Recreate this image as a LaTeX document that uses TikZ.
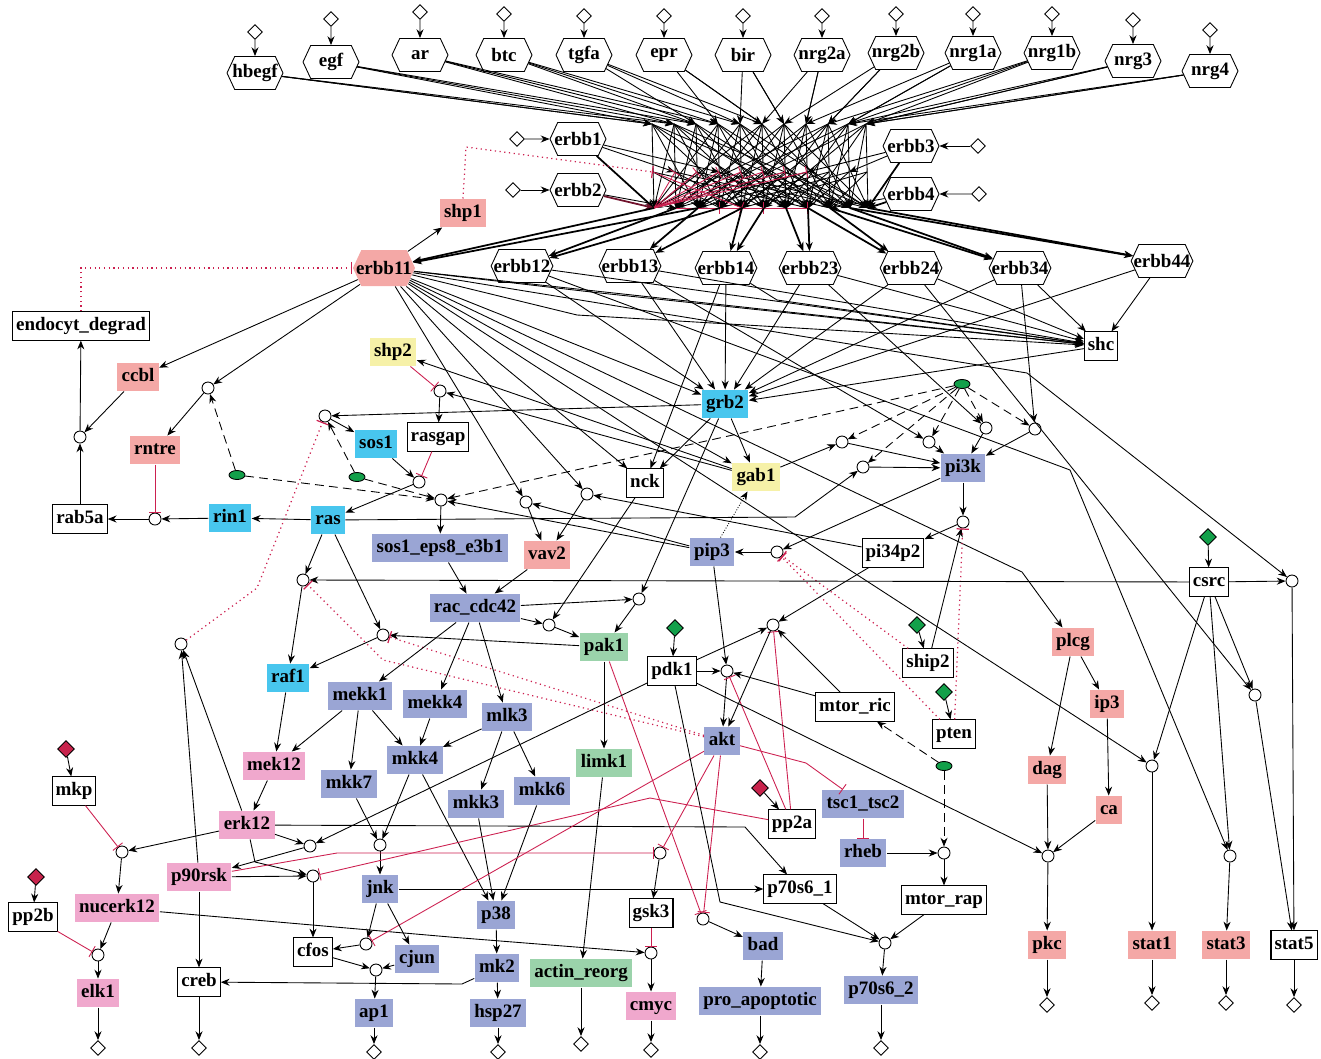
\documentclass[tikz,border=0pt]{standalone}
\usepackage{fontspec}
\setmainfont{Liberation Serif}
\usetikzlibrary{arrows.meta,shapes.geometric,shapes.symbols}

\definecolor{cpink}{HTML}{F4A8A6}
\definecolor{ccyan}{HTML}{48C6EE}
\definecolor{cyell}{HTML}{F6F1A8}
\definecolor{cblue}{HTML}{9AA5D4}
\definecolor{cgreen}{HTML}{9BD3AB}
\definecolor{cmag}{HTML}{F0A8CD}
\definecolor{inhred}{HTML}{CC2050}
\definecolor{modgreen}{HTML}{12A04A}
\definecolor{modred}{HTML}{C8234C}

\tikzset{
  every node/.style={font=\fontsize{10.8}{12}\selectfont\bfseries},
  lig/.style={shape=signal, signal to=east and west, signal pointer angle=130, draw, fill=white,
    inner xsep=-3pt, inner ysep=0pt, minimum height=0.66cm, minimum width=1.12cm},
  sp/.style={rectangle, draw, fill=white, line width=0.6pt, inner xsep=2pt, inner ysep=3.5pt, text height=7pt, text depth=2pt},
  spc/.style={rectangle, fill=#1, inner xsep=2.5pt, inner ysep=3.5pt, text height=7pt, text depth=2pt},
  rx/.style={circle, draw, fill=white, minimum size=0.24cm, inner sep=0pt},
  io/.style={diamond, draw, fill=white, minimum size=0.3cm, inner sep=0pt},
  mgreen/.style={diamond, draw, fill=modgreen, minimum size=0.34cm, inner sep=0pt},
  mred/.style={diamond, draw, fill=modred, minimum size=0.34cm, inner sep=0pt},
  gel/.style={ellipse, draw, fill=modgreen, minimum width=0.32cm, minimum height=0.18cm, inner sep=0pt},
  act/.style={->},
  inh/.style={draw=inhred, -{Bar[width=7pt]}},
  inhd/.style={inh, line width=0.7pt, dotted},
  modarr/.style={->, dash pattern=on 5pt off 3pt},
  dimarr/.style={->, line width=1pt},
}

\begin{document}
\begin{tikzpicture}[x=0.02cm, y=-0.02cm, line width=0.5pt, >={Stealth[length=5pt,width=4pt]}]
\useasboundingbox (0,0) rectangle (1321,1058);

% LIGANDS
\node[lig] (hbegf) at (255,73) {hbegf};
\node[lig] (egf) at (331,62) {egf};
\node[lig] (ar) at (420,55) {ar};
\node[lig] (btc) at (504,55) {btc};
\node[lig] (tgfa) at (584,55) {tgfa};
\node[lig] (epr) at (664,55) {epr};
\node[lig] (bir) at (743,55) {bir};
\node[lig] (nrg2a) at (822,55) {nrg2a};
\node[lig] (nrg2b) at (896,53) {nrg2b};
\node[lig] (nrg1a) at (973,53) {nrg1a};
\node[lig] (nrg1b) at (1052,53) {nrg1b};
\node[lig] (nrg3) at (1133,61) {nrg3};
\node[lig] (nrg4) at (1210,71) {nrg4};

% RECEPTORS AND DIMERS
\node[lig] (erbb1) at (578,139) {erbb1};
\node[lig] (erbb2) at (578,190) {erbb2};
\node[lig] (erbb3) at (911,146) {erbb3};
\node[lig] (erbb4) at (911,194) {erbb4};
\node[lig, draw=none, fill=cpink, minimum height=0.72cm] (erbb11) at (384,268) {erbb11};
\node[lig] (erbb12) at (522,266) {erbb12};
\node[lig] (erbb13) at (630,266) {erbb13};
\node[lig] (erbb14) at (726,268) {erbb14};
\node[lig] (erbb23) at (810,268) {erbb23};
\node[lig] (erbb24) at (911,268) {erbb24};
\node[lig] (erbb34) at (1020,268) {erbb34};
\node[lig] (erbb44) at (1162,261) {erbb44};

% SPECIES
\node[spc=cpink] (shp1) at (463,213) {shp1};
\node[sp] (endocyt) at (81,326) {endocyt\_degrad};
\node[spc=cpink] (ccbl) at (138,377) {ccbl};
\node[spc=cpink] (rntre) at (155,450) {rntre};
\node[sp] (rab5a) at (80,519) {rab5a};
\node[spc=ccyan] (rin1) at (230,518) {rin1};
\node[spc=ccyan] (ras) at (328,520) {ras};
\node[spc=ccyan] (sos1) at (376,444) {sos1};
\node[sp] (rasgap) at (438,437) {rasgap};
\node[spc=cyell] (shp2) at (393,352) {shp2};
\node[spc=cblue] (soseps) at (440,548) {sos1\_eps8\_e3b1};
\node[spc=cpink] (vav2) at (547,555) {vav2};
\node[sp] (nck) at (645,483) {nck};
\node[spc=ccyan] (grb2) at (725,404) {grb2};
\node[spc=cyell] (gab1) at (756,477) {gab1};
\node[spc=cblue] (pi3k) at (963,468) {pi3k};
\node[sp] (shc) at (1101,346) {shc};
\node[spc=cblue] (pip3) at (712,552) {pip3};
\node[sp] (pi34p2) at (893,553) {pi34p2};
\node[sp] (csrc) at (1209,582) {csrc};
\node[spc=cblue] (raccdc) at (475,608) {rac\_cdc42};
\node[spc=cgreen] (pak1) at (604,647) {pak1};
\node[sp] (pdk1) at (672,671) {pdk1};
\node[spc=ccyan] (raf1) at (288,678) {raf1};
\node[spc=cblue] (mekk1) at (360,696) {mekk1};
\node[spc=cblue] (mekk4) at (435,704) {mekk4};
\node[spc=cblue] (mlk3) at (507,717) {mlk3};
\node[spc=cgreen] (limk1) at (604,763) {limk1};
\node[spc=cblue] (akt) at (722,741) {akt};
\node[sp] (mtorric) at (855,707) {mtor\_ric};
\node[sp] (ship2) at (928,663) {ship2};
\node[sp] (pten) at (954,734) {pten};
\node[spc=cpink] (plcg) at (1073,642) {plcg};
\node[spc=cpink] (ip3) at (1107,704) {ip3};
\node[spc=cpink] (dag) at (1047,770) {dag};
\node[spc=cpink] (ca) at (1109,810) {ca};
\node[sp] (mkp) at (74,791) {mkp};
\node[spc=cmag] (mek12) at (274,766) {mek12};
\node[spc=cblue] (mkk7) at (349,784) {mkk7};
\node[spc=cblue] (mkk4) at (415,760) {mkk4};
\node[spc=cblue] (mkk3) at (476,804) {mkk3};
\node[spc=cblue] (mkk6) at (542,791) {mkk6};
\node[spc=cmag] (erk12) at (247,825) {erk12};
\node[sp] (pp2a) at (792,824) {pp2a};
\node[spc=cblue] (tsc) at (863,804) {tsc1\_tsc2};
\node[spc=cblue] (rheb) at (863,853) {rheb};
\node[spc=cmag] (p90rsk) at (199,877) {p90rsk};
\node[spc=cmag] (nucerk12) at (117,908) {nucerk12};
\node[sp] (pp2b) at (33,917) {pp2b};
\node[spc=cblue] (jnk) at (380,889) {jnk};
\node[spc=cblue] (p38) at (496,915) {p38};
\node[sp] (gsk3) at (651,913) {gsk3};
\node[sp] (p70a) at (800,889) {p70s6\_1};
\node[sp] (mtorrap) at (944,900) {mtor\_rap};
\node[sp] (cfos) at (313,952) {cfos};
\node[spc=cblue] (cjun) at (417,959) {cjun};
\node[spc=cblue] (mk2) at (497,968) {mk2};
\node[spc=cgreen] (actin) at (581,973) {actin\_reorg};
\node[spc=cblue] (bad) at (763,946) {bad};
\node[sp] (creb) at (199,982) {creb};
\node[spc=cmag] (elk1) at (98,993) {elk1};
\node[spc=cblue] (ap1) at (374,1013) {ap1};
\node[spc=cblue] (hsp27) at (498,1013) {hsp27};
\node[spc=cmag] (cmyc) at (651,1006) {cmyc};
\node[spc=cblue] (proapo) at (760,1001) {pro\_apoptotic};
\node[spc=cblue] (p70b) at (881,990) {p70s6\_2};
\node[spc=cpink] (pkc) at (1047,945) {pkc};
\node[spc=cpink] (stat1) at (1152,945) {stat1};
\node[spc=cpink] (stat3) at (1226,945) {stat3};
\node[sp] (stat5) at (1294,945) {stat5};

% REACTION POINTS
\node[rx] (rendo) at (80,437) {};
\node[rx] (rrntre) at (208,388) {};
\node[rx] (rrab) at (155,519) {};
\node[rx] (rsos) at (325,416) {};
\node[rx] (rras) at (419,482) {};
\node[rx] (rrasgap) at (440,391) {};
\node[rx] (reps) at (441,500) {};
\node[rx] (rvav1) at (526,502) {};
\node[rx] (rvav2) at (587,494) {};
\node[rx] (rpak1) at (549,625) {};
\node[rx] (rpak2) at (639,599) {};
\node[rx] (rraf1) at (303,580) {};
\node[rx] (rraf2) at (383,635) {};
\node[rx] (rpi1) at (842,442) {};
\node[rx] (rpi2) at (863,467) {};
\node[rx] (rpi3) at (929,442) {};
\node[rx] (rpi4) at (986,428) {};
\node[rx] (rpi5) at (1035,429) {};
\node[rx] (rpip) at (963,522) {};
\node[rx] (rpip3) at (777,552) {};
\node[rx] (rakt1) at (727,671) {};
\node[rx] (rakt2) at (773,625) {};
\node[rx] (rsosinh) at (181,644) {};
\node[rx] (rnuc) at (122,852) {};
\node[rx] (rp90) at (310,846) {};
\node[rx] (rcfos) at (313,876) {};
\node[rx] (rjnk) at (380,845) {};
\node[rx] (relk) at (98,955) {};
\node[rx] (rap1a) at (366,944) {};
\node[rx] (rap1) at (376,970) {};
\node[rx] (rgsk) at (660,853) {};
\node[rx] (rcmyc) at (651,953) {};
\node[rx] (rbad) at (703,919) {};
\node[rx] (rmtor) at (944,853) {};
\node[rx] (rp70) at (885,943) {};
\node[rx] (rpkc) at (1048,856) {};
\node[rx] (rst1) at (1152,766) {};
\node[rx] (rst3) at (1230,856) {};
\node[rx] (rst5a) at (1292,581) {};
\node[rx] (rst5b) at (1255,695) {};

% MODIFIERS
\node[gel] (g1) at (237,475) {};
\node[gel] (g2) at (357,477) {};
\node[gel] (g3) at (962,384) {};
\node[gel] (g4) at (944,766) {};
\node[mred] (dmkp) at (66,749) {};
\node[mred] (dpp2b) at (36,877) {};
\node[mred] (dpp2a) at (760,788) {};
\node[mgreen] (dpdk1) at (675,628) {};
\node[mgreen] (dship2) at (917,625) {};
\node[mgreen] (dpten) at (944,692) {};
\node[mgreen] (dcsrc) at (1208,537) {};

% INPUTS AND OUTPUTS
\foreach \n/\x/\y in {hbegf/255/32, egf/331/19, ar/420/12, btc/504/14, tgfa/584/16, epr/664/16,
  bir/743/16, nrg2a/822/16, nrg2b/896/14, nrg1a/973/14, nrg1b/1052/14, nrg3/1133/20, nrg4/1210/30,
  erbb1/517/139, erbb2/513/190, erbb3/978/146, erbb4/979/194}{
  \node[io] (in-\n) at (\x,\y) {};
  \draw[act] (in-\n) -- (\n);
}
\foreach \n/\x/\y in {elk1/98/1048, creb/199/1048, ap1/374/1052, hsp27/498/1052, actin/581/1044,
  cmyc/651/1050, proapo/760/1052, p70b/881/1048, pkc/1047/1005, stat1/1152/1003, stat3/1226/1003, stat5/1294/1005}{
  \node[io] (out-\n) at (\x,\y) {};
  \draw[act] (\n) -- (out-\n);
}

% DIMERISATION TANGLE
\foreach \i/\x in {0/652,1/674,2/696,3/718,4/740,5/762,6/784,7/806,8/828,9/848,10/866}{
  \coordinate (t\i) at (\x,124);
  \coordinate (m\i) at (\x+1,172);
  \coordinate (b\i) at (\x+2,208);
}
\foreach \n/\a/\b/\c in {hbegf/0/1/0, egf/0/1/2, ar/1/2/3, btc/2/3/4, tgfa/2/4/5, epr/3/5/5, bir/4/6/6,
  nrg2a/5/7/7, nrg2b/6/8/8, nrg1a/7/9/9, nrg1b/8/9/10, nrg3/9/10/10, nrg4/9/10/10}{
  \draw[act] (\n) -- (t\a); \draw[act] (\n) -- (t\b); \draw[act] (\n) -- (t\c);
}
\foreach \i in {0,...,10}{
  \foreach \d in {-8,-5,-3,-1,0,2,4,6,9}{
    \pgfmathtruncatemacro\j{\i+\d}
    \ifnum\j>-1 \ifnum\j<11 \draw[act] (t\i) -- (b\j); \fi\fi
  }
  \foreach \d in {-6,-2,3,7}{
    \pgfmathtruncatemacro\j{\i+\d}
    \ifnum\j>-1 \ifnum\j<11 \draw (m\i) -- (b\j); \fi\fi
  }
}
\draw[dimarr] (erbb1) -- (b0); \draw[act] (erbb1) -- (m1); \draw[act] (erbb1) -- (m3);
\draw[dimarr, draw=inhred!55!black] (erbb2) -- (b0); \draw[act] (erbb2) -- (b1);
\draw[dimarr] (erbb3) -- (b10); \draw[act] (erbb3) -- (m9); \draw[act] (erbb3) -- (m7);
\draw[dimarr] (erbb4) -- (b10); \draw[act] (erbb4) -- (b8);
\foreach \k in {1,2,3,4,5,6,7} \draw[inh] (b0) -- (m\k);
\foreach \k in {3,5,7} \draw[inh] (b1) -- (b\k);
\draw[inh] (m0) -- (b4);
\draw[inhd] (shp1.north) -- (466,147) -- (m0);
\foreach \p/\q in {0/erbb11, 2/erbb11, 1/erbb12, 3/erbb12, 2/erbb13, 4/erbb13, 4/erbb14, 5/erbb14,
  6/erbb23, 7/erbb23, 7/erbb24, 8/erbb24, 8/erbb34, 9/erbb34, 9/erbb44, 10/erbb44}
  \draw[dimarr] (b\p) -- (\q);

% DRAW EDGES
\draw[act] (erbb11) -- (shp1);
\draw[inhd] (endocyt.north) |- (erbb11);
\draw[act] (erbb11) -- (ccbl);
\draw[act] (erbb11) -- (rrntre);
\draw[act] (rrntre) -- (rntre);
\draw[modarr] (g1) -- (rrntre);
\draw[modarr] (g1) -- (reps);
\draw[act] (ccbl) -- (rendo);
\draw[act] (rab5a) -- (rendo);
\draw[act] (rendo) -- (endocyt);
\draw[inh] (rntre) -- (rrab);
\draw[act] (rin1) -- (rrab);
\draw[act] (rrab) -- (rab5a);
\draw[act] (ras) -- (rin1);
\draw[inh] (shp2) -- (rrasgap);
\draw[act] (rrasgap) -- (rasgap);
\draw[act] (gab1) -- (rrasgap);
\draw[act] (gab1) -- (shp2);
\draw[act] (grb2) -- (rsos);
\draw[act] (rsos) -- (sos1);
\draw[modarr] (g2) -- (rsos);
\draw[modarr] (g2) -- (reps);
\draw[inhd] (rsosinh) -- (257,588) -- (280,530) -- (rsos);
\draw[act] (sos1) -- (rras);
\draw[inh] (rasgap) -- (rras);
\draw[act] (rras) -- (ras);
\draw[act] (reps) -- (soseps);
\draw[modarr] (g3) -- (reps);
\draw[act] (pip3) -- (reps);
\draw[act] (soseps) -- (raccdc);
\draw[act] (vav2) -- (raccdc);
\draw[act] (rvav1) -- (vav2);
\draw[act] (rvav2) -- (vav2);
\draw[act] (erbb11) -- (rvav1);
\draw[act] (erbb11) -- (rvav2);
\draw[act] (pip3) -- (rvav1);
\draw[act] (pi34p2) -- (rvav2);

% receptor targets
\draw[act] (erbb11) -- (nck);
\draw[act] (grb2) -- (nck);
\draw[act] (erbb14) -- (nck);
\draw[act] (erbb11) -- (gab1);
\draw[act] (erbb11) -- (600,293) -- (shc);
\draw[act] (erbb11) -- (577,315) -- (shc);
\draw[act] (erbb11) -- (shc);
\draw[act] (erbb12) -- (shc);
\draw[act] (erbb13) -- (shc);
\draw[act] (erbb14) -- (777,300) -- (shc);
\draw[act] (erbb23) -- (shc);
\draw[act] (erbb24) -- (shc);
\draw[act] (erbb34) -- (shc);
\draw[act] (erbb44) -- (shc);
\foreach \n in {erbb11,erbb12,erbb13,erbb14,erbb23,erbb24,erbb34,erbb44,shc}
  \draw[act] (\n) -- (grb2);
\draw[act] (erbb11) -- (1027,373) -- (rst5a);
\draw[act] (erbb12) -- (1070,470) -- (rst3);
\draw[act] (erbb11) -- (rst1);
\draw[act] (erbb24) -- (rst5b);
\draw[act] (erbb11) -- (1022,572) -- (plcg);

% pi3k branch
\draw[act] (grb2) -- (gab1);
\draw[act] (gab1) -- (rpi1);
\draw[act] (ras) -- (795,517) -- (rpi2);
\draw[act] (erbb13) -- (rpi3);
\draw[act] (erbb23) -- (rpi4);
\draw[act] (erbb34) -- (rpi5);
\foreach \k in {1,...,5}{
  \draw[modarr] (g3) -- (rpi\k);
  \draw[act] (rpi\k) -- (pi3k);
}
\draw[act] (pi3k) -- (rpip);
\draw[act] (rpip) -- (pi34p2);
\draw[act] (ship2) -- (rpip);
\draw[inhd] (pten) -- (rpip);
\draw[act] (pi3k) -- (rpip3);
\draw[act] (rpip3) -- (pip3);
\draw[inhd] (ship2) -- (rpip3);
\draw[inhd] (pten) -- (rpip3);
\draw[->, densely dotted] (pip3) -- (gab1);
\draw[act] (dship2) -- (ship2);
\draw[act] (dpten) -- (pten);

% pak and raf
\draw[act] (nck) -- (rpak1);
\draw[act] (raccdc) -- (rpak1);
\draw[act] (rpak1) -- (pak1);
\draw[act] (raccdc) -- (rpak2);
\draw[act] (grb2) -- (rpak2);
\draw[act] (rpak2) -- (pak1);
\draw[act] (pak1) -- (limk1);
\draw[act] (limk1) -- (actin);
\draw[act] (pak1) -- (rraf2);
\draw[inh] (pak1) -- (rbad);
\draw[act] (ras) -- (rraf1);
\draw[act] (csrc) -- (rraf1);
\draw[act] (rraf1) -- (raf1);
\draw[act] (ras) -- (rraf2);
\draw[act] (rraf2) -- (raf1);
\draw[inhd] (akt) -- (383,660) -- (rraf1);
\draw[inhd] (akt) -- (rraf2);

% map kinases
\draw[act] (raf1) -- (mek12);
\draw[act] (mekk1) -- (mek12);
\draw[act] (mek12) -- (erk12);
\draw[act] (raccdc) -- (mekk1);
\draw[act] (raccdc) -- (mekk4);
\draw[act] (raccdc) -- (mlk3);
\draw[act] (mekk1) -- (mkk7);
\draw[act] (mekk1) -- (mkk4);
\draw[act] (mekk4) -- (mkk4);
\draw[act] (mlk3) -- (mkk4);
\draw[act] (mlk3) -- (mkk3);
\draw[act] (mlk3) -- (mkk6);
\draw[act] (mkk4) -- (rjnk);
\draw[act] (mkk7) -- (rjnk);
\draw[act] (rjnk) -- (jnk);
\draw[act] (mkk4) -- (p38);
\draw[act] (mkk3) -- (p38);
\draw[act] (mkk6) -- (p38);
\draw[act] (p38) -- (mk2);
\draw[act] (mk2) -- (hsp27);
\draw[act] (mk2) -- (462,984) -- (creb);

% erk targets
\draw[act] (dmkp) -- (mkp);
\draw[act] (dpp2b) -- (pp2b);
\draw[act] (erk12) -- (rnuc);
\draw[inh] (mkp) -- (rnuc);
\draw[act] (rnuc) -- (nucerk12);
\draw[act] (nucerk12) -- (relk);
\draw[inh] (pp2b) -- (relk);
\draw[act] (relk) -- (elk1);
\draw[act] (nucerk12) -- (450,937) -- (rcmyc);
\draw[act] (erk12) -- (rp90);
\draw[act] (pdk1) -- (rp90);
\draw[act] (rp90) -- (p90rsk);
\draw[act] (erk12) -- (rsosinh);
\draw[act] (p90rsk) -- (rsosinh);
\draw[act] (erk12) -- (255,862) -- (rcfos);
\draw[act] (p90rsk) -- (rcfos);
\draw[act] (rcfos) -- (cfos);
\draw[inh] (pp2a) -- (650,798) -- (rcfos);
\draw[inh] (p90rsk) -- (337,853) -- (rgsk);
\draw[act] (erk12) -- (745,827) -- (p70a);
\draw[act] (p90rsk) -- (creb);

% jnk targets
\draw[act] (jnk) -- (rap1a);
\draw[act] (rap1a) -- (cfos);
\draw[inh] (akt) -- (rap1a);
\draw[act] (jnk) -- (cjun);
\draw[act] (cfos) -- (rap1);
\draw[act] (cjun) -- (rap1);
\draw[act] (rap1) -- (ap1);
\draw[act] (jnk) -- (p70a);

% akt targets
\draw[inh] (akt) -- (rgsk);
\draw[act] (rgsk) -- (gsk3);
\draw[inh] (gsk3) -- (rcmyc);
\draw[act] (rcmyc) -- (cmyc);
\draw[inh] (akt) -- (rbad);
\draw[act] (rbad) -- (bad);
\draw[act] (bad) -- (proapo);
\draw[inh] (akt) -- (806,763) -- (tsc);
\draw[inh] (tsc) -- (rheb);
\draw[act] (rheb) -- (rmtor);
\draw[modarr] (g4) -- (rmtor);
\draw[modarr] (g4) -- (mtorric);
\draw[act] (rmtor) -- (mtorrap);
\draw[act] (mtorrap) -- (rp70);
\draw[act] (p70a) -- (rp70);
\draw[act] (pdk1) -- (720,902) -- (rp70);
\draw[act] (rp70) -- (p70b);

% akt activation
\draw[act] (dpdk1) -- (pdk1);
\draw[act] (dpp2a) -- (pp2a);
\draw[act] (pip3) -- (rakt1);
\draw[act] (pdk1) -- (rakt1);
\draw[act] (mtorric) -- (rakt1);
\draw[act] (rakt1) -- (akt);
\draw[inh] (pp2a) -- (rakt1);
\draw[inh] (pp2a) -- (rakt2);
\draw[act] (pi34p2) -- (rakt2);
\draw[act] (pdk1) -- (rakt2);
\draw[act] (mtorric) -- (rakt2);
\draw[act] (rakt2) -- (akt);
\draw[act] (pdk1) -- (rpkc);

% plcg and stat
\draw[act] (plcg) -- (dag);
\draw[act] (plcg) -- (ip3);
\draw[act] (ip3) -- (ca);
\draw[act] (dag) -- (rpkc);
\draw[act] (ca) -- (rpkc);
\draw[act] (rpkc) -- (pkc);
\draw[act] (dcsrc) -- (csrc);
\draw[act] (csrc) -- (rst5a);
\draw[act] (csrc) -- (rst1);
\draw[act] (csrc) -- (rst3);
\draw[act] (csrc) -- (rst5b);
\draw[act] (rst5a) -- (stat5);
\draw[act] (rst5b) -- (stat5);
\draw[act] (rst1) -- (stat1);
\draw[act] (rst3) -- (stat3);
\end{tikzpicture}
\end{document}
